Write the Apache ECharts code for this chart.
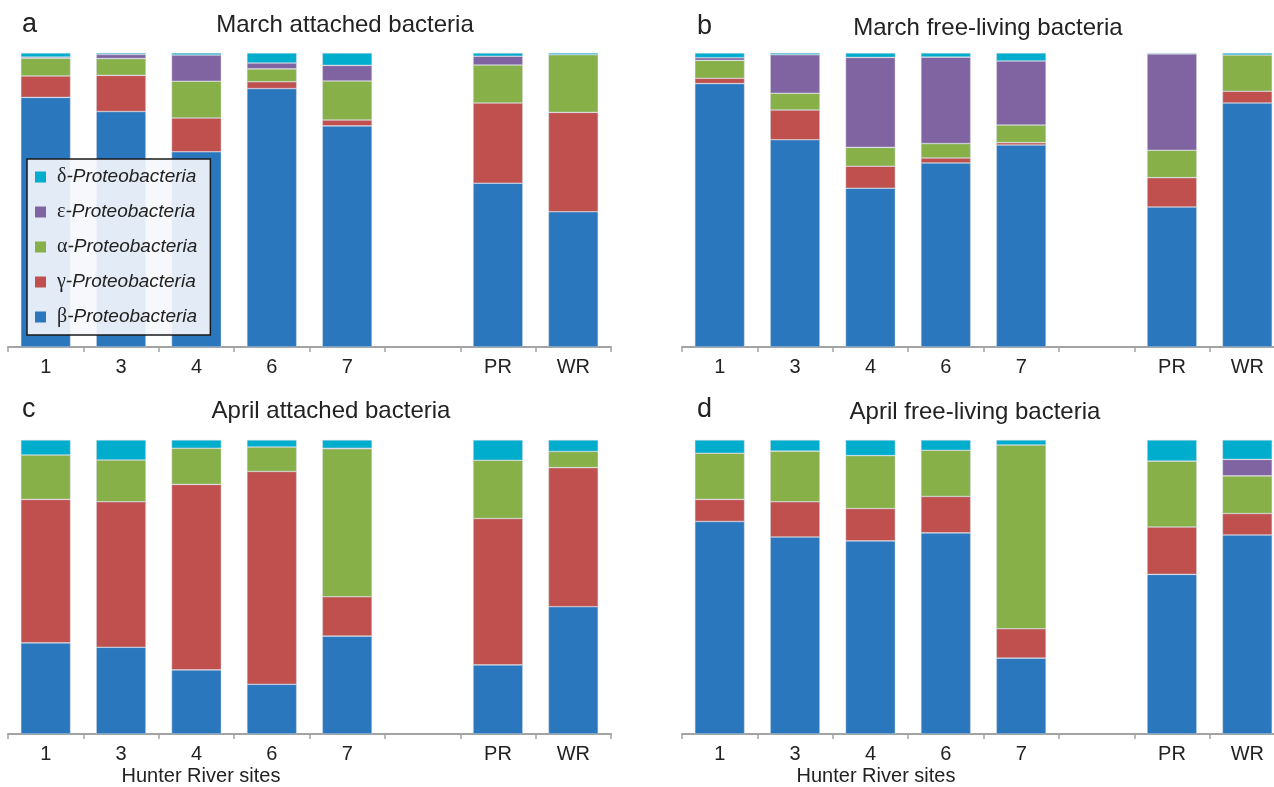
<!DOCTYPE html>
<html>
<head>
<meta charset="utf-8">
<script src="https://cdn.jsdelivr.net/npm/echarts@6/dist/echarts.min.js"></script>
<style>
html,body{margin:0;padding:0;background:#fff;overflow:hidden;}
#chart{width:1290px;height:787px;}
</style>
</head>
<body>
<div id="chart"></div>
<script>
// Categories (blank slot separates Hunter River sites from PR / WR)
const categories = ['1', '3', '4', '6', '7', '', 'PR', 'WR'];
const seriesNames = ['β-Proteobacteria', 'γ-Proteobacteria', 'α-Proteobacteria', 'ε-Proteobacteria', 'δ-Proteobacteria'];
const legendOrder = ['δ-Proteobacteria', 'ε-Proteobacteria', 'α-Proteobacteria', 'γ-Proteobacteria', 'β-Proteobacteria'];
const colors = ['#2a77bd', '#c0504e', '#87b048', '#8064a2', '#00adcd'];

// a: March attached bacteria (%)
const marchAttBeta    = [84.9, 80.1, 66.4, 87.9, 75.2, null, 55.7, 46.0];
const marchAttGamma   = [7.3, 12.3, 11.5, 2.3, 2.0, null, 27.3, 33.8];
const marchAttAlpha   = [6.0, 5.7, 12.5, 4.4, 13.3, null, 12.9, 19.6];
const marchAttEpsilon = [0.4, 1.4, 8.9, 2.0, 5.3, null, 3.0, 0];
const marchAttDelta   = [1.4, 0.5, 0.7, 3.4, 4.2, null, 1.1, 0.6];

// b: March free-living bacteria (%)
const marchFreeBeta    = [89.6, 70.5, 54.0, 62.6, 68.7, null, 47.6, 83.0];
const marchFreeGamma   = [1.8, 10.1, 7.5, 1.7, 0.8, null, 10.0, 4.0];
const marchFreeAlpha   = [6.1, 5.7, 6.4, 4.9, 6.0, null, 9.3, 12.3];
const marchFreeEpsilon = [0.9, 13.1, 30.6, 29.4, 21.8, null, 32.8, 0];
const marchFreeDelta   = [1.6, 0.6, 1.5, 1.4, 2.7, null, 0.3, 0.7];

// c: April attached bacteria (%)
const aprilAttBeta    = [31.0, 29.5, 21.8, 16.9, 33.3, null, 23.5, 43.3];
const aprilAttGamma   = [48.8, 49.5, 63.1, 72.4, 13.4, null, 49.8, 47.3];
const aprilAttAlpha   = [15.1, 14.2, 12.3, 8.3, 50.3, null, 19.8, 5.5];
const aprilAttEpsilon = [0, 0, 0, 0, 0.2, null, 0, 0];
const aprilAttDelta   = [5.1, 6.8, 2.8, 2.4, 2.8, null, 6.9, 3.9];

// d: April free-living bacteria (%)
const aprilFreeBeta    = [72.3, 67.0, 65.7, 68.4, 25.8, null, 54.3, 67.7];
const aprilFreeGamma   = [7.5, 12.0, 11.0, 12.4, 10.0, null, 16.1, 7.3];
const aprilFreeAlpha   = [15.7, 17.2, 18.0, 15.7, 62.5, null, 22.4, 12.8];
const aprilFreeEpsilon = [0, 0, 0, 0, 0, null, 0, 5.6];
const aprilFreeDelta   = [4.5, 3.8, 5.3, 3.5, 1.7, null, 7.2, 6.6];

const panels = [
  [marchAttBeta, marchAttGamma, marchAttAlpha, marchAttEpsilon, marchAttDelta],
  [marchFreeBeta, marchFreeGamma, marchFreeAlpha, marchFreeEpsilon, marchFreeDelta],
  [aprilAttBeta, aprilAttGamma, aprilAttAlpha, aprilAttEpsilon, aprilAttDelta],
  [aprilFreeBeta, aprilFreeGamma, aprilFreeAlpha, aprilFreeEpsilon, aprilFreeDelta]
];

const gridPos = [
  {left: 8, width: 603, top: 53, height: 294},
  {left: 682, width: 603, top: 53, height: 294},
  {left: 8, width: 603, top: 440, height: 294},
  {left: 682, width: 603, top: 440, height: 294}
];

const FONT = '"Liberation Sans", Arial, Helvetica, sans-serif';
const axisGray = '#a3a3a3';

const grids = gridPos.map(g => Object.assign({containLabel: false}, g));
const xAxes = gridPos.map((g, i) => ({
  type: 'category', gridIndex: i, data: categories,
  axisLine: {lineStyle: {color: axisGray, width: 2}},
  axisTick: {show: true, length: 5, lineStyle: {color: axisGray, width: 1.5}},
  axisLabel: {color: '#222', fontSize: 20, fontFamily: FONT, margin: 10}
}));
const yAxes = gridPos.map((g, i) => ({
  type: 'value', gridIndex: i, min: 0, max: 100, show: false, splitLine: {show: false}
}));

const series = [];
panels.forEach((p, pi) => {
  p.forEach((vals, si) => {
    series.push({
      type: 'bar', name: seriesNames[si], stack: 'p' + pi,
      xAxisIndex: pi, yAxisIndex: pi,
      barCategoryGap: '34%',
      data: vals.map(v => (v === null || v === 0) ? '-' : v),
      itemStyle: {color: colors[si], borderColor: 'rgba(210,215,225,0.75)', borderWidth: 0.6},
      emphasis: {disabled: true},
      animation: false
    });
  });
});

function txt(text, x, y, size, align) {
  return {type: 'text', z: 20, style: {text: text, x: x, y: y, fill: '#222',
    font: size + 'px ' + FONT, textAlign: align || 'center', textVerticalAlign: 'middle'}};
}

const option = {
  backgroundColor: '#fff',
  animation: false,
  grid: grids,
  xAxis: xAxes,
  yAxis: yAxes,
  series: series,
  legend: {
    data: legendOrder,
    orient: 'vertical', left: 27, top: 159, z: 10,
    itemWidth: 11, itemHeight: 11, itemGap: 15,
    icon: 'rect',
    padding: [8, 13, 8, 8],
    backgroundColor: 'rgba(246,247,252,0.9)',
    borderColor: '#1a1a1a', borderWidth: 1.5,
    selectedMode: false,
    itemStyle: {borderWidth: 0},
    formatter: name => '{g|' + name.charAt(0) + '}{i|' + name.slice(1) + '}',
    textStyle: {
      lineHeight: 20,
      rich: {
        g: {fontFamily: '"Liberation Serif", "DejaVu Serif", serif', fontSize: 20, color: '#222', padding: [0, 0, 0, 6], lineHeight: 20},
        i: {fontFamily: FONT, fontStyle: 'italic', fontSize: 19, color: '#222', lineHeight: 20}
      }
    }
  },
  graphic: [
    txt('a', 22, 25, 27, 'left'),
    txt('b', 697, 27, 27, 'left'),
    txt('c', 22, 410, 27, 'left'),
    txt('d', 697, 410, 27, 'left'),
    txt('March attached bacteria', 345, 25, 24),
    txt('March free-living bacteria', 988, 28, 24),
    txt('April attached bacteria', 331, 411, 24),
    txt('April free-living bacteria', 975, 412, 24),
    txt('Hunter River sites', 201, 776, 20),
    txt('Hunter River sites', 876, 776, 20)
  ]
};

const chart = echarts.init(document.getElementById('chart'), null, {renderer: 'canvas'});
chart.setOption(option);
</script>
</body>
</html>
